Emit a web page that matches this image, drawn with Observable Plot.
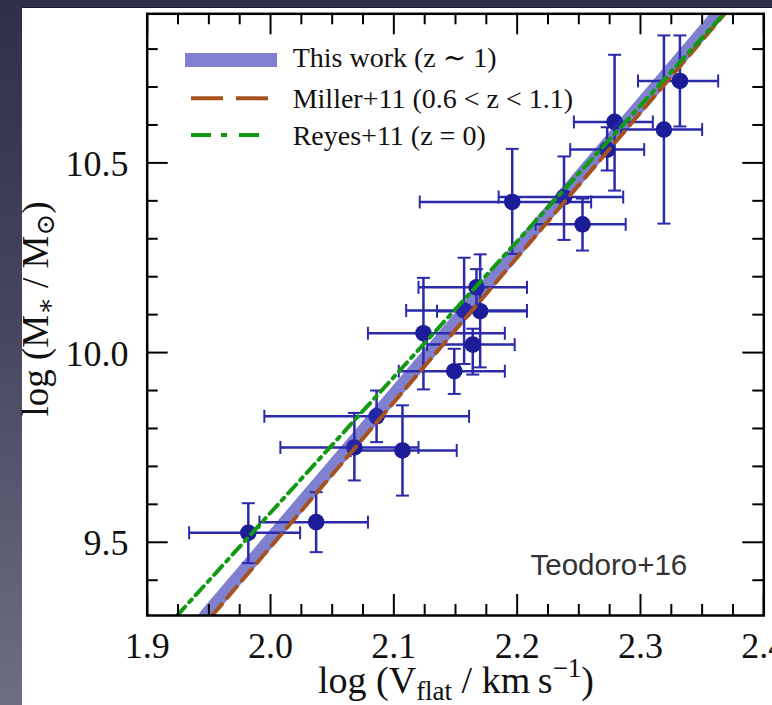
<!DOCTYPE html>
<html><head><meta charset="utf-8">
<script src="https://cdn.jsdelivr.net/npm/d3@7"></script>
<script src="https://cdn.jsdelivr.net/npm/@observablehq/plot@0.6"></script>
<style>
html,body{margin:0;padding:0;width:772px;height:705px;overflow:hidden;}
body{background:linear-gradient(to bottom,#2f2f4a 0%,#45455f 45%,#6e6e82 100%);position:relative;}
#panel{position:absolute;left:22px;top:8px;width:750px;height:697px;background:#fff;box-shadow:0 -1px 0 #1a1a28;}
#chart{position:absolute;left:0;top:0;}
</style></head><body>
<div id="panel"></div>
<div id="chart"></div>
<script>
// ---- data: galaxies (log Vflat, log M*) with error bars ----
const logV = [1.982, 2.037, 2.068, 2.086, 2.107, 2.124, 2.149, 2.164, 2.157, 2.170, 2.167, 2.196, 2.238, 2.253, 2.273, 2.279, 2.319, 2.332];
const logM = [9.525, 9.553, 9.750, 9.832, 9.742, 10.051, 9.951, 10.021, 10.111, 10.109, 10.172, 10.397, 10.410, 10.338, 10.535, 10.608, 10.588, 10.716];
const vLo  = [1.934, 1.991, 2.008, 1.995, 2.065, 2.079, 2.104, 2.127, 2.110, 2.135, 2.120, 2.121, 2.185, 2.215, 2.243, 2.246, 2.284, 2.298];
const vHi  = [2.024, 2.079, 2.120, 2.161, 2.151, 2.190, 2.190, 2.198, 2.208, 2.208, 2.208, 2.260, 2.286, 2.288, 2.303, 2.310, 2.350, 2.363];
const mLo  = [9.445, 9.474, 9.663, 9.764, 9.623, 9.903, 9.891, 9.942, 9.970, 9.961, 10.120, 10.260, 10.297, 10.269, 10.480, 10.427, 10.340, 10.596];
const mHi  = [9.603, 9.632, 9.841, 9.900, 9.861, 10.197, 10.010, 10.063, 10.250, 10.259, 10.220, 10.537, 10.517, 10.406, 10.594, 10.785, 10.836, 10.836];

// ---- fitted relations (endpoints read at the frame edges) ----
const fitNames = ["This work (z \u223C 1)", "Miller+11 (0.6 < z < 1.1)", "Reyes+11 (z = 0)"];
const thisWorkV = [1.9473, 2.3630];
const thisWorkM = [9.307, 10.893];
const millerV = [1.9527, 2.3683];
const millerM = [9.307, 10.893];
const reyesV = [1.9243, 2.3676];
const reyesM = [9.307, 10.893];

// ---- ticks ----
const xMajor = [1.9, 2.0, 2.1, 2.2, 2.3, 2.4];
const xTickLabels = ["1.9", "2.0", "2.1", "2.2", "2.3", "2.4"];
const xMinor = [1.925, 1.95, 1.975, 2.025, 2.05, 2.075, 2.125, 2.15, 2.175, 2.225, 2.25, 2.275, 2.325, 2.35, 2.375];
const yMajor = [9.5, 10.0, 10.5];
const yTickLabels = ["9.5", "10.0", "10.5"];
const yMinor = [9.4, 9.6, 9.7, 9.8, 9.9, 10.1, 10.2, 10.3, 10.4, 10.6, 10.7, 10.8];
const xDomain = [1.9, 2.4];
const yDomain = [9.307, 10.893];
const annotation = ["Teodoro+16"];

// ---- build ----
const pts = logV.map((v, i) => ({v, m: logM[i], vlo: vLo[i], vhi: vHi[i], mlo: mLo[i], mhi: mHi[i]}));
const thisWork = thisWorkV.map((v, i) => ({v, m: thisWorkM[i]}));
const miller = millerV.map((v, i) => ({v, m: millerM[i]}));
const reyes = reyesV.map((v, i) => ({v, m: reyesM[i]}));

const W = 772, H = 705;
const mL = 146.7, mR = 8.7, mT = 13.3, mB = 90;
const innerW = W - mL - mR, innerH = H - mT - mB;
const SERIF = "'Liberation Serif','Times New Roman','DejaVu Serif',serif";
const ptColor = "#1c1c98", errColor = "#2a2aaa";
const bandColor = "#2b2bb0", bandOpacity = 0.6;
const brown = "#a5521f", green = "#129a12";

const vbar = {draw(ctx, size) { const r = Math.sqrt(size / Math.PI); ctx.moveTo(0, -r); ctx.lineTo(0, r); }};
const hbar = {draw(ctx, size) { const r = Math.sqrt(size / Math.PI); ctx.moveTo(-r, 0); ctx.lineTo(r, 0); }};

const majLen = 21, minLen = 11;

const chart = Plot.plot({
  width: W, height: H,
  marginLeft: mL, marginRight: mR, marginTop: mT, marginBottom: mB,
  style: {background: "transparent", overflow: "hidden"},
  x: {domain: xDomain, axis: null},
  y: {domain: yDomain, axis: null},
  marks: [
    // error bars
    Plot.link(pts, {x1: "vlo", x2: "vhi", y1: "m", y2: "m", stroke: errColor, strokeWidth: 2.5}),
    Plot.link(pts, {x1: "v", x2: "v", y1: "mlo", y2: "mhi", stroke: errColor, strokeWidth: 2.5}),
    Plot.dot(pts, {x: "vlo", y: "m", symbol: vbar, r: 6.5, fill: "none", stroke: errColor, strokeWidth: 2}),
    Plot.dot(pts, {x: "vhi", y: "m", symbol: vbar, r: 6.5, fill: "none", stroke: errColor, strokeWidth: 2}),
    Plot.dot(pts, {x: "v", y: "mlo", symbol: hbar, r: 6.5, fill: "none", stroke: errColor, strokeWidth: 2}),
    Plot.dot(pts, {x: "v", y: "mhi", symbol: hbar, r: 6.5, fill: "none", stroke: errColor, strokeWidth: 2}),
    Plot.dot(pts, {x: "v", y: "m", r: 8.3, fill: ptColor, stroke: null}),
    // relations
    Plot.line(thisWork, {x: "v", y: "m", stroke: bandColor, strokeOpacity: bandOpacity, strokeWidth: 13, clip: true}),
    Plot.line(miller, {x: "v", y: "m", stroke: brown, strokeWidth: 4, strokeDasharray: "15,8", clip: true}),
    Plot.line(reyes, {x: "v", y: "m", stroke: green, strokeWidth: 4, strokeDasharray: "12,6,3.5,6", clip: true}),
    // ticks (inward, all four sides)
    Plot.tickX(xMajor, {x: d => d, stroke: "#000", strokeWidth: 2, insetTop: innerH - majLen}),
    Plot.tickX(xMinor, {x: d => d, stroke: "#000", strokeWidth: 2, insetTop: innerH - minLen}),
    Plot.tickX(xMajor, {x: d => d, stroke: "#000", strokeWidth: 2, insetBottom: innerH - majLen}),
    Plot.tickX(xMinor, {x: d => d, stroke: "#000", strokeWidth: 2, insetBottom: innerH - minLen}),
    Plot.tickY(yMajor, {y: d => d, stroke: "#000", strokeWidth: 2, insetRight: innerW - majLen}),
    Plot.tickY(yMinor, {y: d => d, stroke: "#000", strokeWidth: 2, insetRight: innerW - minLen}),
    Plot.tickY(yMajor, {y: d => d, stroke: "#000", strokeWidth: 2, insetLeft: innerW - majLen}),
    Plot.tickY(yMinor, {y: d => d, stroke: "#000", strokeWidth: 2, insetLeft: innerW - minLen}),
    Plot.frame({stroke: "#000", strokeWidth: 2.5}),
    // tick labels
    Plot.text(xMajor, {x: d => d, text: (d, i) => xTickLabels[i], frameAnchor: "bottom", lineAnchor: "bottom", dy: 42,
      fontSize: 36, fontFamily: SERIF, fill: "#111"}),
    Plot.text(yMajor, {y: d => d, text: (d, i) => yTickLabels[i], frameAnchor: "left", textAnchor: "end", lineAnchor: "bottom",
      dx: -18.7, dy: 13, fontSize: 36, fontFamily: SERIF, fill: "#111"}),
    // annotation
    Plot.text(annotation, {frameAnchor: "bottom-right", textAnchor: "end", lineAnchor: "bottom", dx: -76.6, dy: -41,
      fontSize: 29.5, fontFamily: "'Liberation Sans',Arial,sans-serif", fill: "#333"})
  ]
});
document.getElementById("chart").appendChild(chart);

// ---- titles and legend (SVG text with sub/superscripts) ----
const svg = d3.select(chart);
const xt = svg.append("text").attr("x", 456).attr("y", 693).attr("text-anchor", "middle")
  .attr("font-family", SERIF).attr("font-size", 38).attr("fill", "#111");
xt.append("tspan").text("log (V");
xt.append("tspan").attr("font-size", 27).attr("dy", 7).text("flat");
xt.append("tspan").attr("dy", -7).text(" / km\u2009s");
xt.append("tspan").attr("font-size", 27).attr("dy", -16).text("\u22121");
xt.append("tspan").attr("dy", 16).text(")");

const yt = svg.append("text").attr("transform", "translate(48,309) rotate(-90)").attr("text-anchor", "middle")
  .attr("font-family", SERIF).attr("font-size", 37).attr("fill", "#111");
yt.append("tspan").text("log (M");
yt.append("tspan").attr("font-size", 26).attr("dy", 6).text("\u2217");
yt.append("tspan").attr("dy", -6).text(" / M");
yt.append("tspan").attr("font-size", 26).attr("dy", 6).attr("font-family", "'DejaVu Serif',serif").text("\u2299");
yt.append("tspan").attr("dy", -6).text(")");

const lg = svg.append("g").attr("font-family", SERIF).attr("font-size", 28).attr("fill", "#111");
lg.append("rect").attr("x", 185).attr("y", 53).attr("width", 92).attr("height", 14)
  .attr("fill", bandColor).attr("fill-opacity", bandOpacity);
lg.append("line").attr("x1", 191).attr("x2", 269).attr("y1", 98.3).attr("y2", 98.3)
  .attr("stroke", brown).attr("stroke-width", 4).attr("stroke-dasharray", "32,13");
lg.append("line").attr("x1", 191).attr("x2", 261).attr("y1", 135).attr("y2", 135)
  .attr("stroke", green).attr("stroke-width", 4).attr("stroke-dasharray", "20,10,6,12");
[67, 108.3, 145].forEach((y, i) => lg.append("text").attr("x", 292.7).attr("y", y)
  .attr("text-anchor", "start").text(fitNames[i]));
</script>
</body></html>
